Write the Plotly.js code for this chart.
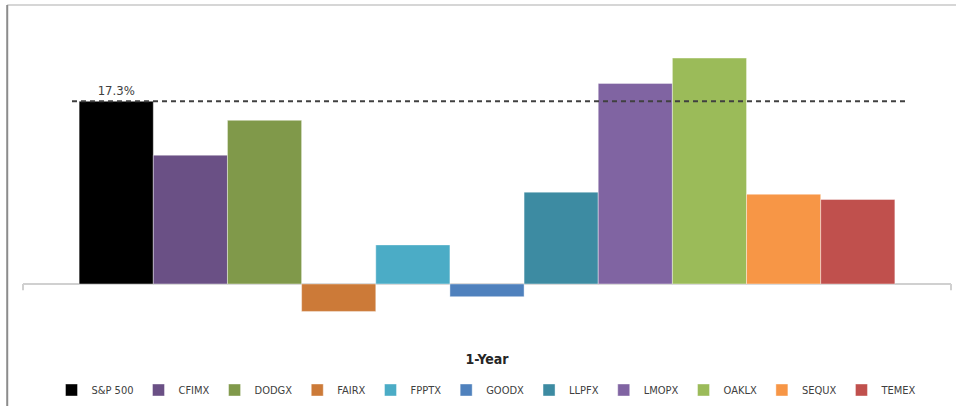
<!DOCTYPE html>
<html>
<head>
<meta charset="utf-8">
<script src="https://cdn.plot.ly/plotly-3.0.1.min.js"></script>
<style>html,body{margin:0;padding:0;background:#fff;}#chart{width:956px;height:406px;}</style>
</head>
<body>
<div id="chart"></div>
<script>
// Data
var category = ['1-Year'];
var funds = ['S&P 500','CFIMX','DODGX','FAIRX','FPPTX','GOODX','LLPFX','LMOPX','OAKLX','SEQUX','TEMEX'];
var returns1Y = [17.3, 12.2, 15.5, -2.6, 3.7, -1.2, 8.7, 19.0, 21.4, 8.5, 8.0];
var colors = ['#000000','#6A5085','#80994A','#CC7A38','#4BACC6','#4F81BD','#3D8BA2','#8064A2','#9BBB59','#F79646','#C0504D'];
var benchmarkIndex = 0;

var fontFam = '"DejaVu Sans Condensed", "Liberation Sans Narrow", sans-serif';

var traces = funds.map(function(name, i){
  var t = {
    type: 'bar',
    name: name,
    x: category,
    y: [returns1Y[i]],
    marker: {color: colors[i], line: {color: 'rgba(255,255,255,0.5)', width: 0.8}},
    hoverinfo: 'name+y'
  };
  if (i === benchmarkIndex) {
    t.text = [returns1Y[i].toFixed(1) + '%'];
    t.textposition = 'outside';
    t.textfont = {family: fontFam, size: 13, color: '#404040'};
    t.cliponaxis = false;
  }
  return t;
});

var bench = returns1Y[benchmarkIndex];

var layout = {
  width: 956, height: 406,
  margin: {l: 23, r: 5, t: 40, b: 61, autoexpand: false},
  paper_bgcolor: '#ffffff',
  plot_bgcolor: '#ffffff',
  barmode: 'group',
  bargap: 0.121,
  bargroupgap: 0,
  showlegend: true,
  legend: {
    orientation: 'h',
    x: 0.5, xanchor: 'center',
    y: -0.10, yanchor: 'top',
    font: {family: fontFam, size: 11, color: '#404040'},
    traceorder: 'normal',
    itemwidth: 30,
    itemclick: false
  },
  xaxis: {
    type: 'category',
    automargin: false,
    showline: false,
    showgrid: false,
    zeroline: false,
    ticks: '',
    ticklabelstandoff: 4,
    tickfont: {family: fontFam, size: 14, color: '#262626', weight: 'bold'},
    fixedrange: true
  },
  yaxis: {
    range: [-5.78, 23.11],
    automargin: false,
    showticklabels: false,
    showgrid: false,
    showline: false,
    ticks: '',
    zeroline: true,
    zerolinecolor: '#d0d0d0',
    zerolinewidth: 2,
    fixedrange: true
  },
  shapes: [
    // benchmark dashed line
    {type: 'line', xref: 'paper', yref: 'y', x0: 0.0528, x1: 0.9547, y0: bench, y1: bench,
     line: {color: '#404040', width: 2, dash: '5px,4px'}, layer: 'above'},
    // axis end tick marks
    {type: 'line', xref: 'paper', yref: 'y', x0: 0, x1: 0, y0: 0, y1: -0.6, line: {color: '#d0d0d0', width: 2}},
    {type: 'line', xref: 'paper', yref: 'y', x0: 1, x1: 1, y0: 0, y1: -0.6, line: {color: '#d0d0d0', width: 2}},
    // chart border (top and left)
    {type: 'line', xref: 'paper', yref: 'paper', x0: -0.017, x1: 1.006, y0: 1.115, y1: 1.115, line: {color: '#c8c8c8', width: 1.5}},
    {type: 'line', xref: 'paper', yref: 'paper', x0: -0.017, x1: -0.017, y0: 1.115, y1: -0.2, line: {color: '#8c8c8c', width: 2}}
  ]
};

Plotly.newPlot('chart', traces, layout, {displayModeBar: false, staticPlot: true});
</script>
</body>
</html>
